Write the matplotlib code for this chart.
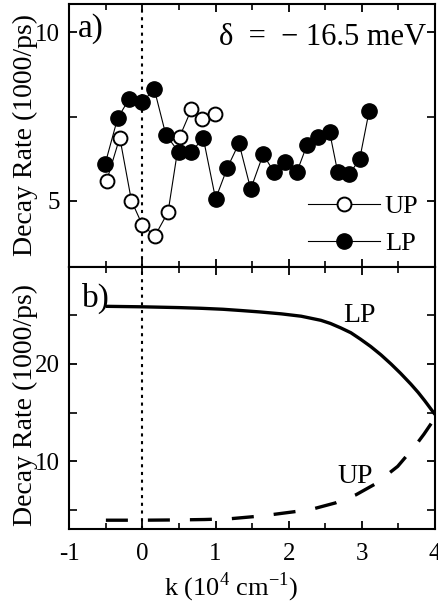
import matplotlib
matplotlib.use("Agg")
import matplotlib.pyplot as plt
from matplotlib.ticker import FixedLocator

# ---------------- data ----------------
# panel a) measured decay rates
up_k = [-0.49, -0.31, -0.15, 0.0, 0.17, 0.35, 0.51, 0.67, 0.82, 0.99]
up_rate = [5.59, 6.88, 5.0, 4.28, 3.96, 4.67, 6.91, 7.72, 7.44, 7.59]

lp_k = [-0.51, -0.34, -0.18, 0.0, 0.16, 0.32, 0.50, 0.67, 0.83, 1.0, 1.16, 1.32,
        1.48, 1.65, 1.80, 1.95, 2.11, 2.25, 2.40, 2.56, 2.67, 2.83, 2.97, 3.10]
lp_rate = [6.10, 7.45, 8.03, 7.92, 8.33, 6.96, 6.44, 6.44, 6.88, 5.06, 5.98, 6.71,
           5.35, 6.38, 5.85, 6.15, 5.85, 6.66, 6.91, 7.03, 5.85, 5.80, 6.24, 7.67]

# panel b) calculated decay rates
lp_curve_k = [-0.5, 0.0, 0.5, 0.8, 1.1, 1.35, 1.6, 1.9, 2.17, 2.44, 2.57, 2.71,
              2.85, 2.98, 3.12, 3.26, 3.40, 3.53, 3.67, 3.77, 3.86, 3.93, 4.0]
lp_curve = [25.85, 25.8, 25.72, 25.65, 25.55, 25.42, 25.28, 25.08, 24.84, 24.42, 24.1, 23.65,
            23.15, 22.5, 21.75, 20.9, 19.95, 19.0, 17.9, 17.05, 16.2, 15.5, 14.8]

up_curve_k = [-0.5, 0.0, 0.5, 0.85, 1.2, 1.5, 1.78, 2.07, 2.35, 2.64, 2.92, 3.19,
              3.49, 3.74, 3.85, 3.95, 4.0]
up_curve = [4.0, 4.0, 4.03, 4.07, 4.15, 4.35, 4.58, 4.86, 5.19, 5.77, 6.6, 7.73,
            9.5, 11.7, 12.8, 13.9, 15.0]

x_ticks = [-1, 0, 1, 2, 3, 4]
x_tick_labels = ["-1", "0", "1", "2", "3", "4"]
a_ticks = [5, 10]
b_ticks = [10, 20]

# ---------------- style ----------------
plt.rcParams.update({
    "font.family": ["Liberation Serif", "DejaVu Serif"],
    "mathtext.fontset": "custom",
    "mathtext.rm": "Liberation Serif",
    "axes.unicode_minus": False,
    "xtick.direction": "in",
    "ytick.direction": "in",
    "xtick.top": True,
    "ytick.right": True,
    "axes.linewidth": 1.5,
})

fig = plt.figure(figsize=(4.39, 6.05), dpi=100)
ax1 = fig.add_axes([0.1579, 0.5592, 0.833, 0.4342])
ax2 = fig.add_axes([0.1579, 0.1256, 0.833, 0.4336])

for ax in (ax1, ax2):
    ax.set_xlim(-1, 4)
    ax.xaxis.set_major_locator(FixedLocator(x_ticks))
    ax.xaxis.set_minor_locator(FixedLocator([-0.5, 0.5, 1.5, 2.5, 3.5]))
    ax.tick_params(which="major", length=6, width=1.3, labelsize=18, pad=7)
    ax.tick_params(which="minor", length=4, width=1.2)
    ax.axvline(0, color="black", lw=1.5, ls=(0, (1.5, 2.2)), zorder=1)

# panel a
ax1.set_ylim(3.05, 10.84)
ax1.yaxis.set_major_locator(FixedLocator(a_ticks))
ax1.yaxis.set_minor_locator(FixedLocator([7.5]))
ax1.tick_params(axis="y", which="minor", length=6)
ax1.tick_params(axis="x", labelbottom=False)
ax1.set_yticklabels([str(t) for t in a_ticks])

l_up, = ax1.plot(up_k, up_rate, color="black", lw=0.8, marker="o", ms=10,
                 mfc="white", mec="black", mew=1.4, label="UP", zorder=2)
l_lp, = ax1.plot(lp_k, lp_rate, color="black", lw=0.8, marker="o", ms=11,
                 mfc="black", mec="black", label="LP", zorder=3)
ax1.legend(handles=[l_up, l_lp], loc="lower right", bbox_to_anchor=(0.955, 0.045),
           frameon=False, fontsize=19, handlelength=2.7, handletextpad=0.2,
           labelspacing=0.5, borderpad=0, borderaxespad=0)
ax1.text(0.024, 0.874, "a)", transform=ax1.transAxes, fontsize=24,
         ha="left", va="baseline")
ax1.text(0.975, 0.844, "δ  =  − 16.5 meV", transform=ax1.transAxes, fontsize=22,
         ha="right", va="baseline")

# panel b
ax2.set_ylim(3.1, 29.9)
ax2.yaxis.set_major_locator(FixedLocator(b_ticks))
ax2.yaxis.set_minor_locator(FixedLocator([5, 15, 25]))
ax2.tick_params(axis="y", which="minor", length=6)
ax2.set_yticklabels([str(t) for t in b_ticks])
ax2.set_xticklabels(x_tick_labels)
ax2.tick_params(axis="x", which="major", pad=10)

ax2.plot(lp_curve_k, lp_curve, color="black", lw=2.4, solid_capstyle="butt",
         solid_joinstyle="round", zorder=3)
ax2.plot(up_curve_k, up_curve, color="black", lw=2.4, ls=(0, (6.6, 6.0)),
         dash_capstyle="butt", zorder=3)
ax2.text(2.74, 24.23, "LP", fontsize=20, ha="left", va="baseline")
ax2.text(2.66, 7.8, "UP", fontsize=20, ha="left", va="baseline")
ax2.text(0.035, 0.847, "b)", transform=ax2.transAxes, fontsize=24,
         ha="left", va="baseline")

ax2.set_xlabel(r"k (10$^{4}$ cm$^{-1}$)", fontsize=19)
ax2.xaxis.set_label_coords(0.442, -0.222)
ax2.xaxis.label.set_va("center")

fig.text(25 / 439, 1 - 135 / 605, "Decay Rate (1000/ps)", rotation=90,
         fontsize=20, ha="center", va="center")
fig.text(25 / 439, 1 - 405 / 605, "Decay Rate (1000/ps)", rotation=90,
         fontsize=20, ha="center", va="center")

fig.savefig("out.png", dpi=100)
